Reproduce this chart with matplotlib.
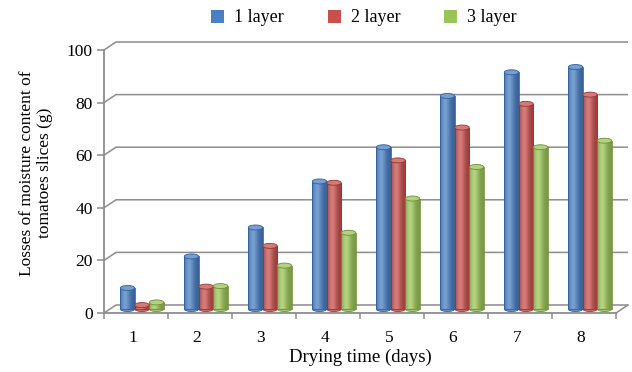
import matplotlib
matplotlib.use('Agg')
import matplotlib.pyplot as plt
from matplotlib.patches import Ellipse, Rectangle, Patch
import numpy as np

plt.rcParams['font.family'] = ['Liberation Serif', 'DejaVu Serif']

days = ['1', '2', '3', '4', '5', '6', '7', '8']
layer_1 = [8, 20, 31, 48.5, 61.5, 81, 90, 92]
layer_2 = [1.5, 8.5, 24, 48, 56.5, 69, 78, 81.5]
layer_3 = [2.5, 8.7, 16.5, 29, 42, 54, 61.5, 64]
series_names = ['1 layer', '2 layer', '3 layer']
series_colors = ['#4a7fc4', '#c8504c', '#9bc458']
edge_colors = ['#30609e', '#963633', '#6f9038']
y_ticks = [0, 20, 40, 60, 80, 100]

W, H = 632, 372
fig = plt.figure(figsize=(W / 100, H / 100), dpi=100)
ax = fig.add_axes([104 / W, (H - 313) / H, 512 / W, 263 / H])
n = len(days)

# depth of the fake 3d box, in data units (12 px right, 8 px up)
px_x = 512 / n
px_y = 263 / 100
dx = 12 / px_x
dy = 8 / px_y
grid_c = '#8c8c8c'

# back wall gridlines and left wall diagonals
for v in y_ticks:
    ax.plot([0, dx, n + dx], [v, v + dy, v + dy], color=grid_c, lw=1.1,
            clip_on=False, zorder=1, solid_capstyle='butt')
# right end of the floor
ax.plot([n, n + dx], [0, dy], color=grid_c, lw=1.1, clip_on=False, zorder=1)


def shade(rgb, t):
    rgb = np.array(matplotlib.colors.to_rgb(rgb))
    g = np.exp(-((t - 0.35) / 0.32) ** 2)
    dark = rgb * 0.78
    light = rgb + (1 - rgb) * 0.25
    return np.clip(dark + (light - dark) * g, 0, 1)


bar_w = 14.5 / px_x
x0 = np.arange(n) + 0.5 + dx / 2
base = dy / 2
cap_h = 5 / px_y
all_series = [layer_1, layer_2, layer_3]
ts = np.linspace(0, 1, 32)

for k, vals in enumerate(all_series):
    col = series_colors[k]
    ec = edge_colors[k]
    grad = np.array([shade(col, t) for t in ts])[None, :, :]
    xc = x0 + (k - 1) * bar_w
    z = k * 0.01
    for i, v in enumerate(vals):
        left = xc[i] - bar_w / 2
        # rounded bottom
        ax.add_patch(Ellipse((xc[i], base), bar_w, cap_h, facecolor=shade(col, 0.5),
                             edgecolor=ec, lw=0.6, zorder=3 + z))
        body = Rectangle((left, base), bar_w, v, facecolor='none', edgecolor=ec,
                         lw=0.6, zorder=5 + z)
        ax.add_patch(body)
        im = ax.imshow(grad, extent=[left, left + bar_w, base, base + v],
                       aspect='auto', interpolation='bilinear', zorder=4 + z)
        im.set_clip_path(body)
        # top cap
        ax.add_patch(Ellipse((xc[i], base + v), bar_w, cap_h,
                             facecolor=shade(col, 0.3), edgecolor=ec, lw=0.6,
                             zorder=6 + z, clip_on=False))

ax.set_xlim(0, n)
ax.set_ylim(0, 100)

# front axes
for side in ['top', 'right']:
    ax.spines[side].set_visible(False)
for side in ['left', 'bottom']:
    ax.spines[side].set_color(grid_c)
    ax.spines[side].set_linewidth(1.3)
    ax.spines[side].set_zorder(7)

ax.set_yticks(y_ticks)
ax.set_yticklabels([str(v) for v in y_ticks])
ax.tick_params(axis='y', length=5, width=1.1, color=grid_c, pad=3, labelsize=12.5)
ax.set_xticks(np.arange(n + 1))
ax.set_xticklabels([])
ax.set_xticks(np.arange(n) + 0.45, minor=True)
ax.set_xticklabels(days, minor=True)
ax.tick_params(axis='x', which='major', length=4, width=1.1, color=grid_c)
ax.tick_params(axis='x', which='minor', length=0, pad=12, labelsize=12.5)
ax.set_facecolor('none')

fig.text(360 / W, 1 - 357 / H, 'Drying time (days)', ha='center', va='center', fontsize=13.5)
fig.text(36 / W, 1 - 173 / H, 'Losses of moisture content of\ntomatoes slices (g)',
         rotation=90, ha='center', va='center', fontsize=12.5, linespacing=1.2)

handles = [Patch(facecolor=c, edgecolor='none') for c in series_colors]
fig.legend(handles, series_names, loc='center', bbox_to_anchor=(364 / W, 1 - 18 / H),
           ncol=3, frameon=False, fontsize=13, handlelength=0.7, handleheight=0.7,
           handletextpad=0.55, columnspacing=2.45, borderpad=0)

fig.savefig('out.png', dpi=100)
